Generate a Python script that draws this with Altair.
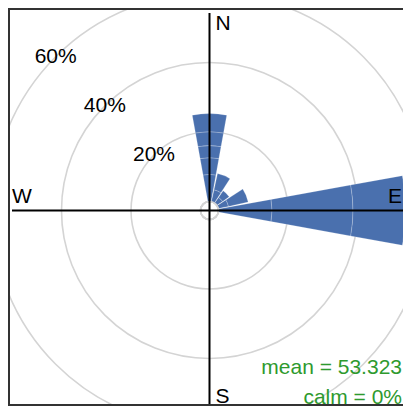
import math
import altair as alt
import pandas as pd

# ---- data ----
directions = [0, 22.5, 45, 67.5, 90]          # wedge centre, degrees from north
# cumulative segment boundaries (%) of each wedge
seg_bounds = [
    [0, 7.8, 12.6, 16.1, 20.1, 25.3],
    [0, 3.5, 8.3],
    [0, 2.0, 4.3],
    [0, 3.0, 8.8],
    [0, 15.4, 38.7, 53.8],
]
grid_levels = [20, 40, 60]
grid_labels = ["20%", "40%", "60%"]
calm_level = [0]
compass_letters = ["N", "E", "S", "W"]
stat_lines = ["mean = 53.323", "calm = 0%"]

# ---- layout / style ----
W, H = 395, 398
CX, CY = 201.5, 202.5       # centre of the rose inside the chart (pixels)
HALF_WIDTH = 10.25          # half angular width of a wedge
R_OFFSET, R_PER_PCT = 9, 3.475
LABEL_THETA = 315
AXIS_EXT = 197.5
FONT = "Liberation Sans"
FS = 21
BLUE = "#4A70AE"
GRID = "#D4D4D4"
GREEN = "#2E9A2E"
FRAME = "#333333"

compass_pos = {"N": (6.0, 186.8, "left"), "S": (6.0, -186.5, "left"),
               "W": (-197.5, 14.0, "left"), "E": (192.5, 14.0, "right")}
stat_pos = [(192.5, -157.0), (192.5, -187.0)]

wedge_rows = []
for d, b in zip(directions, seg_bounds):
    for lo, hi in zip(b[:-1], b[1:]):
        wedge_rows.append({"t0": d - HALF_WIDTH, "t1": d + HALF_WIDTH,
                           "r0": lo, "r1": hi, "cx": 0, "cy": 0})
wedges = pd.DataFrame(wedge_rows)

theta_scale = alt.Scale(domain=[0, 360], range=[0, 2 * math.pi])
r_scale = alt.Scale(type="linear", domain=[0, 60],
                    range=[R_OFFSET, R_OFFSET + R_PER_PCT * 60])
x_scale = alt.Scale(domain=[-CX, W - CX], range=[0, W])
y_scale = alt.Scale(domain=[CY - H, CY], range=[H, 0])

X0 = alt.X("cx:Q", scale=x_scale, axis=None)
Y0 = alt.Y("cy:Q", scale=y_scale, axis=None)

grid_df = pd.DataFrame({"r": grid_levels, "t0": 0, "t1": 360, "lab": grid_labels,
                        "tl": LABEL_THETA, "cx": 0, "cy": 0})
calm_df = pd.DataFrame({"r": calm_level, "t0": 0, "t1": 360, "cx": 0, "cy": 0})

grid = alt.Chart(grid_df).mark_arc(filled=False, stroke=GRID, strokeWidth=1.6).encode(
    x=X0, y=Y0,
    theta=alt.Theta("t0:Q", scale=theta_scale),
    theta2="t1:Q",
    radius=alt.Radius("r:Q", scale=r_scale),
)

wedge_layer = alt.Chart(wedges).mark_arc(
    fill=BLUE, stroke="white", strokeWidth=0.6, strokeOpacity=0.35
).encode(
    x=X0, y=Y0,
    theta=alt.Theta("t0:Q", scale=theta_scale),
    theta2="t1:Q",
    radius=alt.Radius("r1:Q", scale=r_scale),
    radius2="r0:Q",
)

calm = alt.Chart(calm_df).mark_arc(filled=False, stroke=GRID, strokeWidth=1.6).encode(
    x=X0, y=Y0,
    theta=alt.Theta("t0:Q", scale=theta_scale),
    theta2="t1:Q",
    radius=alt.Radius("r:Q", scale=r_scale),
)

axes_df = pd.DataFrame({
    "x": [0, -AXIS_EXT], "x2": [0, AXIS_EXT],
    "y": [-AXIS_EXT, 0], "y2": [AXIS_EXT, 0],
})
axes_lines = alt.Chart(axes_df).mark_rule(color="black", strokeWidth=2).encode(
    x=alt.X("x:Q", scale=x_scale, axis=None),
    x2="x2:Q",
    y=alt.Y("y:Q", scale=y_scale, axis=None),
    y2="y2:Q",
)

# frame: left, top, bottom (the right edge lies outside the picture)
frame_df = pd.DataFrame({
    "x": [1 - CX, -CX, -CX], "x2": [1 - CX, W - CX, W - CX],
    "y": [CY - H, CY - 1, CY - H + 1], "y2": [CY, CY - 1, CY - H + 1],
})
frame = alt.Chart(frame_df).mark_rule(color=FRAME, strokeWidth=2).encode(
    x=alt.X("x:Q", scale=x_scale, axis=None),
    x2="x2:Q",
    y=alt.Y("y:Q", scale=y_scale, axis=None),
    y2="y2:Q",
)

pct_labels = alt.Chart(grid_df).mark_text(
    font=FONT, fontSize=FS, color="black", align="center", baseline="middle"
).encode(
    x=X0, y=Y0,
    theta=alt.Theta("tl:Q", scale=theta_scale),
    radius=alt.Radius("r:Q", scale=r_scale),
    text="lab:N",
)

comp_layers = []
for letter in compass_letters:
    px, py, al = compass_pos[letter]
    comp_layers.append(
        alt.Chart(pd.DataFrame({"t": [letter], "x": [px], "y": [py]})).mark_text(
            font=FONT, fontSize=FS, color="black", align=al, baseline="middle"
        ).encode(
            x=alt.X("x:Q", scale=x_scale, axis=None),
            y=alt.Y("y:Q", scale=y_scale, axis=None),
            text="t:N",
        )
    )

stats_df = pd.DataFrame({"t": stat_lines, "x": [p[0] for p in stat_pos],
                         "y": [p[1] for p in stat_pos]})
stats = alt.Chart(stats_df).mark_text(
    font=FONT, fontSize=FS, color=GREEN, align="right", baseline="middle"
).encode(
    x=alt.X("x:Q", scale=x_scale, axis=None),
    y=alt.Y("y:Q", scale=y_scale, axis=None),
    text="t:N",
)

chart = alt.layer(
    grid, wedge_layer, calm, axes_lines, frame, pct_labels, *comp_layers, stats
).properties(
    width=W, height=H, padding=0, autosize=alt.AutoSizeParams(type="none"),
    background="white",
).configure_view(strokeWidth=0)

chart.save("out.html", embed_options={"renderer": "svg", "actions": False})
